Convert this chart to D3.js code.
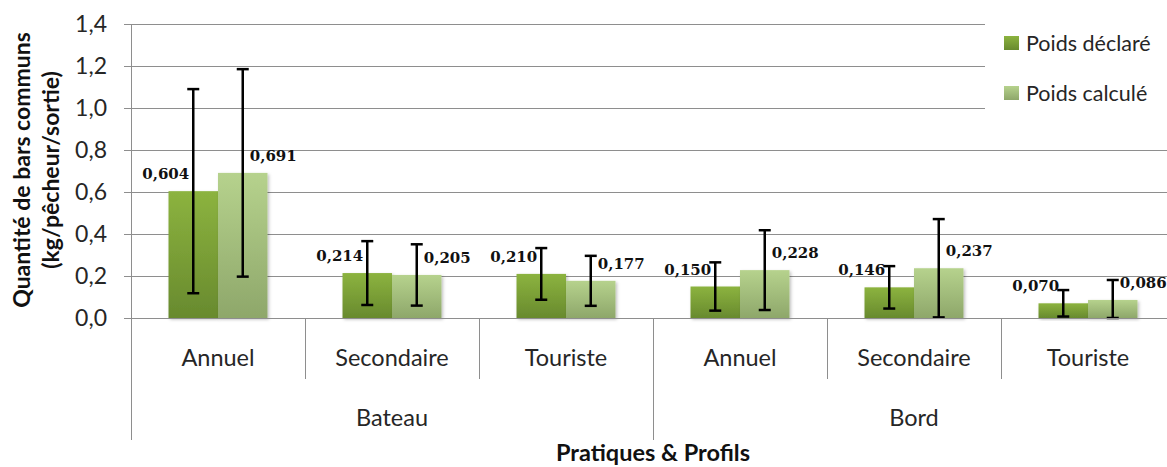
<!DOCTYPE html>
<html>
<head>
<meta charset="utf-8">
<script src="https://cdn.jsdelivr.net/npm/d3@7"></script>
<style>
  body { margin: 0; background: #fff; }
  svg { display: block; font-family: Lato, "Open Sans", sans-serif; }
  .grid line { stroke: #8e8e8e; stroke-width: 1; }
  .tick-label { font-size: 23px; fill: #262626; }
  .cat-label { font-size: 23.5px; fill: #262626; }
  .val-label { font-family: "DejaVu Serif", serif; font-weight: bold; font-size: 15px; fill: #111; }
  .title { font-size: 23px; font-weight: bold; fill: #111; }
</style>
</head>
<body>
<svg id="chart" width="1167" height="467"></svg>
<script>
// chart data
var categories = ["Annuel", "Secondaire", "Touriste", "Annuel", "Secondaire", "Touriste"];
var groups = ["Bateau", "Bord"];
var seriesNames = ["Poids déclaré", "Poids calculé"];
var declared = [0.604, 0.214, 0.210, 0.150, 0.146, 0.070];
var calculated = [0.691, 0.205, 0.177, 0.228, 0.237, 0.086];
var declaredErr = [0.486, 0.152, 0.123, 0.115, 0.101, 0.063];
var calculatedErr = [0.494, 0.146, 0.119, 0.190, 0.234, 0.095];
var yTicks = [0, 0.2, 0.4, 0.6, 0.8, 1.0, 1.2, 1.4];

var svg = d3.select("#chart"),
    plotLeft = 131, plotRight = 1175, plotTop = 24, plotBottom = 318;

var locale = d3.formatLocale({ decimal: ",", thousands: " ", grouping: [3], currency: ["", " €"] });
var fmt1 = locale.format(".1f"), fmt3 = locale.format(".3f");

var x0 = d3.scaleBand().domain(d3.range(categories.length)).range([plotLeft, plotRight]);
var x1 = d3.scaleBand().domain([0, 1]).range([0, x0.bandwidth()]).paddingOuter(0.758);
var y = d3.scaleLinear().domain([0, 1.4]).range([plotBottom, plotTop]);

var defs = svg.append("defs");
var colors = [["#8cb33f", "#688a2e"], ["#b6d28d", "#8ea76a"]];
colors.forEach(function(c, i) {
  var g = defs.append("linearGradient").attr("id", "grad" + i)
    .attr("x1", 0).attr("y1", 0).attr("x2", 0).attr("y2", 1);
  g.append("stop").attr("offset", "0%").attr("stop-color", c[0]);
  g.append("stop").attr("offset", "100%").attr("stop-color", c[1]);
});
defs.append("filter").attr("id", "shadow").attr("x", "-10%").attr("y", "-10%").attr("width", "130%").attr("height", "130%")
  .append("feDropShadow").attr("dx", 1.5).attr("dy", 1.5).attr("stdDeviation", 1.5)
  .attr("flood-color", "#000").attr("flood-opacity", 0.25);

// gridlines with small outside ticks
svg.append("g").attr("class", "grid")
  .selectAll("line").data(yTicks.slice(1)).enter().append("line")
  .attr("x1", plotLeft - 7).attr("x2", plotRight)
  .attr("y1", function(d) { return Math.round(y(d)) + 0.5; })
  .attr("y2", function(d) { return Math.round(y(d)) + 0.5; });

svg.selectAll(".tick-label").data(yTicks).enter().append("text")
  .attr("class", "tick-label")
  .attr("x", plotLeft - 24).attr("y", function(d) { return y(d); })
  .attr("dy", "0.35em").attr("text-anchor", "end")
  .text(function(d) { return fmt1(d); });

// bars
var rows = d3.range(categories.length).map(function(i) {
  return [
    { i: i, s: 0, v: declared[i], e: declaredErr[i] },
    { i: i, s: 1, v: calculated[i], e: calculatedErr[i] }
  ];
});

var cat = svg.append("g").selectAll("g").data(rows).enter().append("g")
  .attr("transform", function(d, i) { return "translate(" + x0(i) + ",0)"; });

cat.selectAll("rect").data(function(d) { return d; }).enter().append("rect")
  .attr("x", function(d) { return x1(d.s); })
  .attr("width", x1.bandwidth())
  .attr("y", function(d) { return y(d.v); })
  .attr("height", function(d) { return plotBottom - y(d.v); })
  .attr("fill", function(d) { return "url(#grad" + d.s + ")"; })
  .attr("filter", "url(#shadow)");

// axis lines
var ax = svg.append("g").attr("class", "grid");
ax.append("line").attr("x1", plotLeft - 7).attr("x2", plotRight).attr("y1", plotBottom + 0.5).attr("y2", plotBottom + 0.5);
ax.append("line").attr("x1", plotLeft + 0.5).attr("x2", plotLeft + 0.5).attr("y1", plotTop).attr("y2", plotBottom);

// error bars
var err = cat.selectAll(".err").data(function(d) { return d; }).enter().append("g")
  .attr("class", "err")
  .attr("transform", function(d) { return "translate(" + (x1(d.s) + x1.bandwidth() / 2) + ",0)"; });
err.append("line")
  .attr("y1", function(d) { return y(d.v + d.e); })
  .attr("y2", function(d) { return y(Math.max(0, d.v - d.e)); })
  .attr("stroke", "#000").attr("stroke-width", 2.5);
err.append("line")
  .attr("x1", -6).attr("x2", 6)
  .attr("y1", function(d) { return y(d.v + d.e); })
  .attr("y2", function(d) { return y(d.v + d.e); })
  .attr("stroke", "#000").attr("stroke-width", 2.5);
err.append("line")
  .attr("x1", -6).attr("x2", 6)
  .attr("y1", function(d) { return y(Math.max(0, d.v - d.e)); })
  .attr("y2", function(d) { return y(Math.max(0, d.v - d.e)); })
  .attr("stroke", "#000").attr("stroke-width", 2.5);

// value labels
cat.selectAll(".val-label").data(function(d) { return d; }).enter().append("text")
  .attr("class", "val-label")
  .attr("x", function(d) { return x1(d.s) + x1.bandwidth() / 2 + (d.s ? 7 : -4); })
  .attr("y", function(d) { return y(d.v) - 12; })
  .attr("text-anchor", function(d) { return d.s ? "start" : "end"; })
  .text(function(d) { return fmt3(d.v); });

// category axis: separators and labels
var catAxis = svg.append("g").attr("class", "grid");
catAxis.selectAll("line").data(d3.range(categories.length + 1)).enter().append("line")
  .attr("x1", function(i) { return Math.round(plotLeft + i * x0.step()) + 0.5; })
  .attr("x2", function(i) { return Math.round(plotLeft + i * x0.step()) + 0.5; })
  .attr("y1", plotBottom)
  .attr("y2", function(i) { return i % 3 === 0 ? 440 : 379; });

svg.selectAll(".cat-label").data(categories).enter().append("text")
  .attr("class", "cat-label")
  .attr("x", function(d, i) { return x0(i) + x0.bandwidth() / 2; })
  .attr("y", 366).attr("text-anchor", "middle")
  .text(function(d) { return d; });

svg.selectAll(".grp-label").data(groups).enter().append("text")
  .attr("class", "cat-label grp-label")
  .attr("x", function(d, i) { return (x0(i * 3) + x0(i * 3 + 2) + x0.bandwidth()) / 2; })
  .attr("y", 426).attr("text-anchor", "middle")
  .text(function(d) { return d; });

// titles
svg.append("text").attr("class", "title")
  .attr("x", 653).attr("y", 461).attr("text-anchor", "middle")
  .style("font-size", "23.5px")
  .text("Pratiques & Profils");

var yt = svg.append("text").attr("class", "title")
  .attr("transform", "translate(30,170) rotate(-90)").attr("text-anchor", "middle");
yt.append("tspan").attr("x", 0).attr("y", 0).text("Quantité de bars communs");
yt.append("tspan").attr("x", 0).attr("y", 29).text("(kg/pêcheur/sortie)");

// legend
var legend = svg.append("g");
legend.append("rect").attr("x", 985).attr("y", 0).attr("width", 190).attr("height", 125).attr("fill", "#fff");
var li = legend.selectAll(".li").data(seriesNames).enter().append("g")
  .attr("transform", function(d, i) { return "translate(1004," + (43 + i * 50) + ")"; });
li.append("rect").attr("x", 0).attr("y", -7).attr("width", 15).attr("height", 14)
  .attr("fill", function(d, i) { return "url(#grad" + i + ")"; });
li.append("text").attr("class", "cat-label").attr("x", 22).attr("dy", "0.35em")
  .style("font-size", "21.5px").text(function(d) { return d; });
</script>
</body>
</html>
